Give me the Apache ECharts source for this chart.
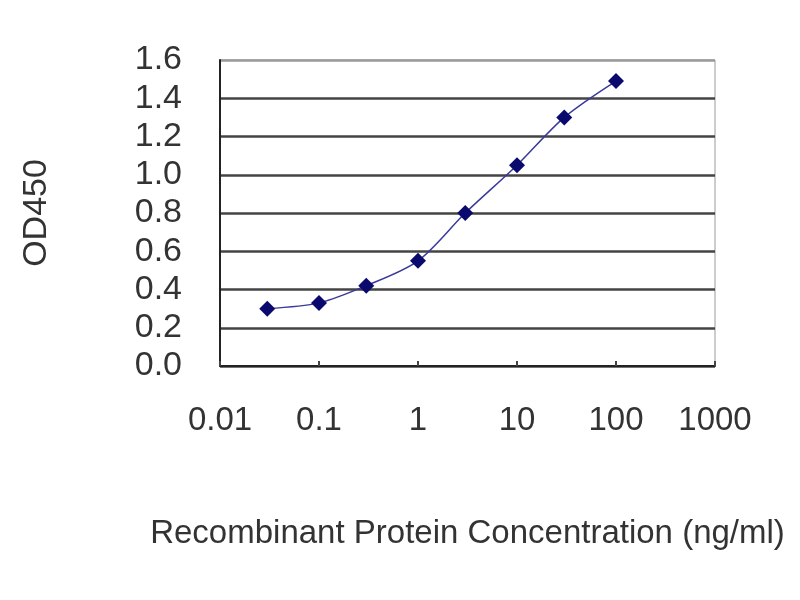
<!DOCTYPE html>
<html>
<head>
    <meta charset="utf-8" />
    <title>OD450 standard curve</title>
    <script src="https://cdn.jsdelivr.net/npm/echarts@6/dist/echarts.min.js"></script>
    <style>
        html, body { margin: 0; padding: 0; background: #ffffff; }
        #main { width: 800px; height: 600px; }
    </style>
</head>
<body>
<div id="main"></div>
<script type="text/javascript">
    // concentration (ng/ml) vs OD450
    let concentration = [0.03, 0.1, 0.3, 1, 3, 10, 30, 100]
    let od450 = [0.30, 0.33, 0.42, 0.55, 0.80, 1.05, 1.30, 1.49]
    let xTickLabels = ['0.01', '0.1', '1', '10', '100', '1000']

    let textColor = '#333333'
    let fontName = '"Liberation Sans", Arial, sans-serif'
    let gridColor = '#444444'

    let chart = echarts.init(document.getElementById('main'), null, { renderer: 'canvas' })

    let points = []
    for (let i = 0; i < concentration.length; i++) {
        points.push([concentration[i], od450[i]])
    }

    chart.setOption({
        backgroundColor: '#ffffff',
        animation: false,
        textStyle: { fontFamily: fontName, color: textColor },
        grid: {
            left: 220,
            right: 85,
            top: 60,
            bottom: 234,
            show: true,
            borderColor: '#9a9a9a',
            borderWidth: 1,
        },
        xAxis: {
            type: 'log',
            logBase: 10,
            min: 0.01,
            max: 1000,
            name: 'Recombinant Protein Concentration (ng/ml)',
            nameLocation: 'middle',
            nameGap: 151,
            nameTextStyle: { fontSize: 33, color: textColor, fontFamily: fontName },
            axisLine: { show: true, lineStyle: { color: '#222222', width: 2 } },
            axisTick: { show: true, inside: true, length: 5, lineStyle: { color: '#444444', width: 2 } },
            axisLabel: {
                margin: 38,
                fontSize: 33,
                color: textColor,
                fontFamily: fontName,
                formatter: function (value) {
                    let idx = Math.round(Math.log10(value)) + 2
                    return xTickLabels[idx] !== undefined ? xTickLabels[idx] : ''
                }
            },
            splitLine: { show: false },
            minorTick: { show: false },
        },
        yAxis: {
            type: 'value',
            min: 0,
            max: 1.6,
            interval: 0.2,
            name: 'OD450',
            nameLocation: 'middle',
            nameGap: 166,
            nameTextStyle: { fontSize: 34, color: textColor, fontFamily: fontName },
            axisLine: { show: true, lineStyle: { color: '#222222', width: 2 } },
            axisTick: { show: false },
            axisLabel: {
                margin: 38,
                fontSize: 34,
                color: textColor,
                fontFamily: fontName,
                formatter: function (value) {
                    return value.toFixed(1)
                }
            },
            splitLine: {
                show: true,
                lineStyle: {
                    color: [gridColor, gridColor, gridColor, gridColor, gridColor, gridColor, gridColor, gridColor, '#9a9a9a'],
                    width: 2.5,
                }
            },
        },
        series: [
            {
                name: 'OD450',
                type: 'line',
                smooth: 0.3,
                data: points,
                symbol: 'diamond',
                symbolSize: 16,
                lineStyle: { color: '#3a3a9a', width: 1.5 },
                itemStyle: { color: '#0a0a6e' },
            }
        ]
    })
</script>
</body>
</html>
